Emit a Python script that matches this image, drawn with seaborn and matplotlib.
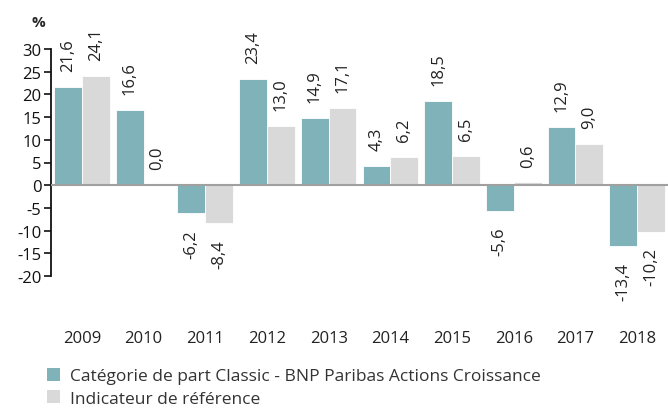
import matplotlib
matplotlib.use("Agg")
import matplotlib.pyplot as plt
import seaborn as sns
import pandas as pd
from matplotlib.patches import Patch

years = ["2009", "2010", "2011", "2012", "2013", "2014", "2015", "2016", "2017", "2018"]
classic = [21.6, 16.6, -6.2, 23.4, 14.9, 4.3, 18.5, -5.6, 12.9, -13.4]
reference = [24.1, 0.0, -8.4, 13.0, 17.1, 6.2, 6.5, 0.6, 9.0, -10.2]
series_names = ["Catégorie de part Classic - BNP Paribas Actions Croissance",
                "Indicateur de référence"]
colors = ["#7FB2B9", "#D9D9D9"]
yticks = [30, 25, 20, 15, 10, 5, 0, -5, -10, -15, -20]

sns.set_theme(style="white")
plt.rcParams["font.family"] = ["Open Sans", "DejaVu Sans"]

df = pd.DataFrame({
    "year": years * 2,
    "value": classic + reference,
    "series": [series_names[0]] * len(years) + [series_names[1]] * len(years),
})

fig = plt.figure(figsize=(6.68, 4.14), dpi=100)
ax = fig.add_axes([51 / 668, 1 - 277 / 414, 1 - 51 / 668, (277 - 50) / 414])

sns.barplot(data=df, x="year", y="value", hue="series", palette=colors,
            width=0.9, ax=ax, legend=False, saturation=1,
            edgecolor="white", linewidth=0.6)

ax.set_ylim(-20, 30)
ax.set_xlim(-0.5, 9.5)
ax.set_yticks(yticks)
ax.set_yticklabels([str(t) for t in yticks], fontsize=12, color="#222222")
ax.set_xlabel("")
ax.set_ylabel("")
ax.tick_params(axis="x", length=0, pad=39, labelsize=12, labelcolor="#222222")
ax.tick_params(axis="y", length=5, width=1.2, direction="out", left=True, pad=2, colors="#111111")
for s in ["top", "right", "bottom"]:
    ax.spines[s].set_visible(False)
ax.spines["left"].set_color("#111111")
ax.spines["left"].set_linewidth(1.3)
ax.axhline(0, color="#A0A0A0", linewidth=1.5, zorder=3)

for cont in ax.containers:
    for bar in cont:
        v = bar.get_height()
        x = bar.get_x() + bar.get_width() / 2
        lbl = f"{v:.1f}".replace(".", ",")
        if v >= 0:
            ax.annotate(lbl, (x, v), xytext=(0, 11.5), textcoords="offset points",
                        rotation=90, ha="center", va="bottom", fontsize=12, color="#222222")
        else:
            ax.annotate(lbl, (x, v), xytext=(0, -11.5), textcoords="offset points",
                        rotation=90, ha="center", va="top", fontsize=12, color="#222222")

fig.text(38 / 668, 1 - 23 / 414, "%", fontsize=11, fontweight="bold", ha="center", va="center")

handles = [Patch(facecolor=c, edgecolor="none") for c in colors]
leg = fig.legend(handles, series_names, loc="upper left", bbox_to_anchor=(47 / 668, 1 - 369 / 414),
                 frameon=False, fontsize=12.5, handlelength=0.75, handleheight=0.75,
                 handletextpad=0.55, labelspacing=0.35, borderaxespad=0, borderpad=0)
for t in leg.get_texts():
    t.set_color("#333333")

fig.savefig("out.png", dpi=100)
